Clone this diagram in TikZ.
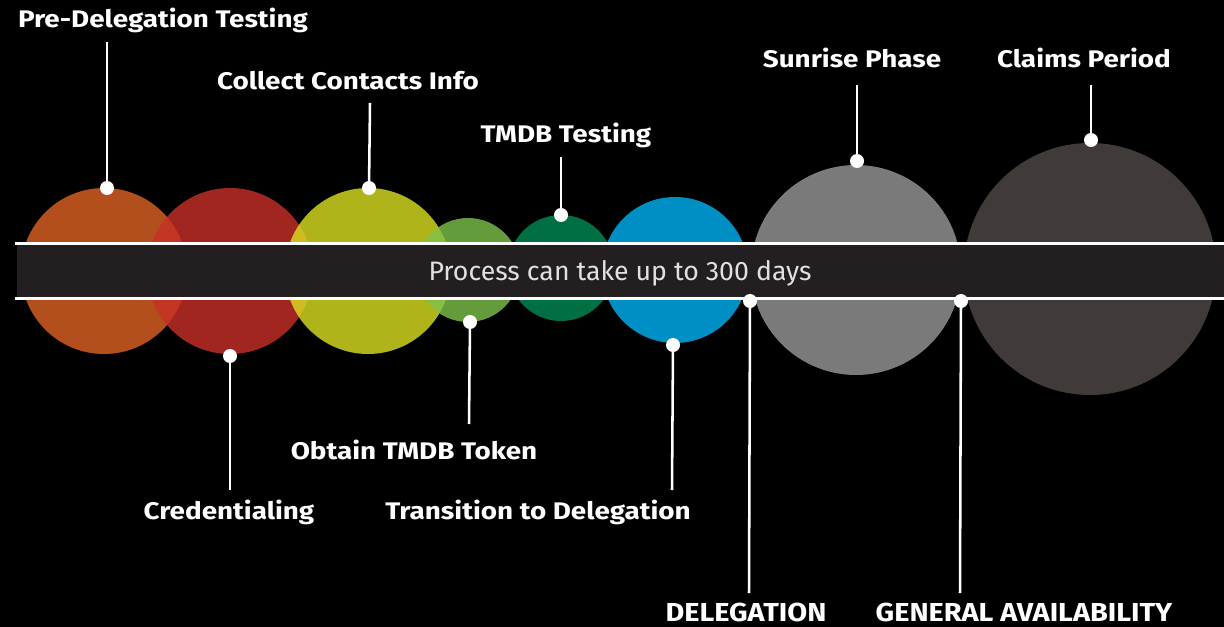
\documentclass[tikz,border=0pt]{standalone}
\usepackage{fontspec}
\setmainfont{Fira Sans}
\newfontfamily\lblfont[FakeStretch=1.16]{Fira Sans}
\newfontfamily\capfont[FakeStretch=1.11]{Fira Sans}
\begin{document}
\begin{tikzpicture}[x=0.75pt,y=-0.75pt,
  phase/.style={fill=#1,fill opacity=0.8,draw=none},
  lbl/.style={text=white,font=\lblfont\bfseries\fontsize{18}{21}\selectfont,anchor=base,inner sep=0pt},
  caplbl/.style={text=white,font=\capfont\bfseries\fontsize{19.5}{23}\selectfont,anchor=base,inner sep=0pt},
  pin/.style={white,line width=1.9pt},
  knob/.style={circle,fill=white,draw=none,minimum size=10.5pt,inner sep=0pt},
  rail/.style={white,line width=2.3pt}]
\definecolor{orangeP}{RGB}{224,99,36}
\definecolor{redP}{RGB}{200,48,39}
\definecolor{yellowP}{RGB}{220,225,34}
\definecolor{lgreenP}{RGB}{126,194,74}
\definecolor{dgreenP}{RGB}{0,139,86}
\definecolor{blueP}{RGB}{0,179,246}
\definecolor{greyP}{RGB}{153,153,153}
\definecolor{darkP}{RGB}{80,74,70}
\definecolor{bandP}{RGB}{35,31,32}
\definecolor{bandtext}{RGB}{225,225,225}

% background and frame
\fill[black] (0,0) rectangle (1224,627);
\useasboundingbox (0,0) rectangle (1224,627);

% phase circles, drawn left to right
\fill[phase=orangeP] (104,271) circle (83);
\fill[phase=redP] (230,271) circle (83);
\fill[phase=yellowP] (368,271) circle (83);
\fill[phase=lgreenP] (468,270) circle (52);
\fill[phase=dgreenP] (561,268) circle (53);
\fill[phase=blueP] (675,270) circle (73);
\fill[phase=greyP] (856,270) circle (105);
\fill[phase=darkP] (1090,269) circle (126);

% timeline band
\fill[bandP] (17,245) rectangle (1224,297);
\draw[rail] (14.5,243.5) -- (1224,243.5);
\draw[rail] (14.5,298.5) -- (1224,298.5);
\node[text=bandtext,font=\fontsize{20}{24}\selectfont,anchor=base,inner sep=0pt] (band) at (620,281) {Process can take up to 300 days};

% labels
\node[lbl] (lPD) at (163,28) {Pre-Delegation Testing};
\node[lbl] (lCC) at (348,90) {Collect Contacts Info};
\node[lbl] (lTM) at (566,143) {TMDB Testing};
\node[lbl] (lSP) at (852,68) {Sunrise Phase};
\node[lbl] (lCP) at (1084,68) {Claims Period};
\node[lbl] (lCR) at (229,519) {Credentialing};
\node[lbl] (lOT) at (414,459) {Obtain TMDB Token};
\node[lbl] (lTD) at (538,519) {Transition to Delegation};
\node[caplbl] (lDE) at (746,621.5) {DELEGATION};
\node[caplbl] (lGA) at (1024,621.5) {GENERAL AVAILABILITY};

% pin ends
\coordinate (ePD) at (107,42);
\coordinate (eCC) at (370,103);
\coordinate (eTM) at (561,157);
\coordinate (eSP) at (857,85);
\coordinate (eCP) at (1091,85);
\coordinate (eCR) at (230,490);
\coordinate (eOT) at (469,424);
\coordinate (eTD) at (672,490);
\coordinate (eDE) at (749,593);
\coordinate (eGA) at (960,593);

% pin knobs
\node[knob] (kPD) at (107,188) {};
\node[knob] (kCC) at (369,188) {};
\node[knob] (kTM) at (561,215) {};
\node[knob] (kSP) at (857,161) {};
\node[knob] (kCP) at (1091,140) {};
\node[knob] (kCR) at (230,356) {};
\node[knob] (kOT) at (470,322) {};
\node[knob] (kTD) at (673,345) {};
\node[knob] (kDE) at (750,301) {};
\node[knob] (kGA) at (961,301) {};

% pins
\foreach \k in {PD,CC,TM,SP,CP,CR,OT,TD,DE,GA}
  \draw[pin] (k\k.center) -- (e\k);
\end{tikzpicture}
\end{document}
